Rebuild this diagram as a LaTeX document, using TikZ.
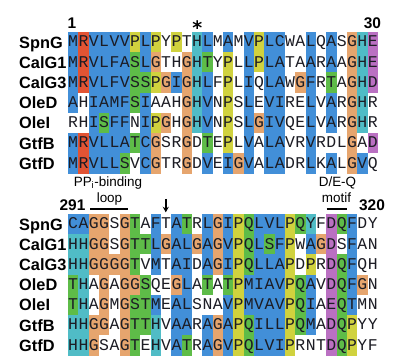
\documentclass[tikz,border=0pt]{standalone}
\usepackage{fontspec}
\setmainfont{Liberation Sans}
\newfontfamily\seqfont{Liberation Mono}
\newfontfamily\symfont{DejaVu Sans}
\usetikzlibrary{arrows.meta}
\definecolor{colb}{RGB}{66,143,216}
\definecolor{colr}{RGB}{226,84,52}
\definecolor{colg}{RGB}{94,188,72}
\definecolor{colo}{RGB}{230,165,110}
\definecolor{coly}{RGB}{208,210,62}
\definecolor{colc}{RGB}{80,188,198}
\definecolor{colm}{RGB}{186,112,194}
\definecolor{colw}{RGB}{255,255,255}
\definecolor{ink}{RGB}{28,28,36}
\tikzset{
  namelab/.style={anchor=base west,inner sep=0pt,font=\fontsize{16.4}{18}\selectfont\bfseries},
  seqlab/.style={anchor=base,inner sep=0pt,text=ink,font=\fontsize{16.5}{18}\seqfont},
  numlab/.style={anchor=base,inner sep=0pt,font=\fontsize{15.5}{18}\selectfont\bfseries},
  motiflab/.style={anchor=base,inner sep=0pt,font=\fontsize{13.5}{16}\selectfont},
  motifbar/.style={line width=2.4bp},
}
\newcommand\alnrow[4]{%
  \node[namelab] (n#1) at (19,#2+16) {#3};
  \foreach \a/\c [count=\i] in {#4} {
    \fill[fill=col\c] ({68+10.33*(\i-1)},#2) rectangle ({68+10.33*\i+0.4},#2+20.6);
  }
  \foreach \a/\c [count=\i] in {#4} {
    \node[seqlab] (s#1-\i) at ({68+10.33*(\i-0.5)},#2+14.9) {\a};
  }
}
\begin{document}
\begin{tikzpicture}[x=1bp,y=-1bp]
\useasboundingbox (0,0) rectangle (410,362);
% top block
\node[numlab] (num1) at (72,28) {1};
\node[anchor=base,inner sep=0pt,font=\fontsize{19}{22}\symfont\bfseries] (star) at (197.2,29.5) {⁎};
\node[numlab] (num30) at (372.5,28) {30};
\alnrow{a1}{32}{SpnG}{M/b,R/r,V/b,L/b,V/b,V/b,P/y,L/b,P/y,Y/w,P/y,T/w,H/c,L/b,M/w,A/b,M/w,V/b,P/y,L/b,C/b,W/w,A/w,L/b,Q/w,A/b,S/w,G/o,H/c,E/m}
\alnrow{a2}{52.2}{CalG1}{M/b,R/r,V/b,L/b,F/b,A/b,S/g,L/b,G/o,T/w,H/w,G/o,H/c,T/g,Y/w,P/y,L/w,L/b,P/y,L/b,A/b,T/w,A/w,A/b,R/w,A/b,A/w,G/o,H/c,E/m}
\alnrow{a3}{72.4}{CalG3}{M/b,R/r,V/b,L/b,F/b,V/b,S/g,S/g,P/y,G/o,I/b,G/o,H/c,L/b,F/w,P/y,L/w,I/b,Q/w,L/b,A/b,W/w,G/o,F/b,R/w,T/g,A/w,G/o,H/c,D/m}
\alnrow{a4}{92.6}{OleD}{A/b,H/w,I/b,A/b,M/b,F/b,S/g,I/b,A/w,A/w,H/w,G/o,H/c,V/b,N/w,P/y,S/w,L/b,E/w,V/b,I/b,R/w,E/w,L/b,V/w,A/b,R/w,G/o,H/c,R/w}
\alnrow{a5}{112.8}{OleI}{R/w,H/w,I/b,S/g,F/b,F/b,N/w,I/b,P/y,G/o,H/w,G/o,H/c,V/b,N/w,P/y,S/w,L/b,G/o,I/b,V/b,Q/w,E/w,L/b,V/w,A/b,R/w,G/o,H/c,R/w}
\alnrow{a6}{133}{GtfB}{M/b,R/r,V/b,L/b,L/b,A/b,T/g,C/b,G/o,S/w,R/w,G/o,D/w,T/g,E/w,P/y,L/w,V/b,A/w,L/b,A/b,V/w,R/w,V/b,R/w,D/w,L/w,G/o,A/w,D/m}
\alnrow{a7}{153.2}{GtfD}{M/b,R/r,V/b,L/b,L/b,S/g,V/w,C/b,G/o,T/w,R/w,G/o,D/w,V/b,E/w,I/b,G/o,V/b,A/w,L/b,A/b,D/w,R/w,L/b,K/w,A/b,L/w,G/o,V/b,Q/w}
% bottom block labels
\node[motiflab] (ppi) at (108,186.5) {PP\textsubscript{i}-binding};
\node[motiflab] (loop) at (109.5,202.8) {loop};
\coordinate (lb1) at (90,208.8);
\coordinate (lb2) at (128,208.8);
\draw[motifbar] (lb1) -- (lb2);
\node[numlab] (num291) at (72.5,210) {291};
\coordinate (arrtop) at (165.8,198.8);
\coordinate (arrtip) at (165.8,212.3);
\draw[line width=1.5bp,-{Stealth[length=5.5bp,width=6bp]}] (arrtop) -- (arrtip);
\node[motiflab] (deq) at (337.5,186.5) {D/E-Q};
\node[motiflab] (motif) at (336.5,202.8) {motif};
\coordinate (mb1) at (326.7,208.8);
\coordinate (mb2) at (346.7,208.8);
\draw[motifbar] (mb1) -- (mb2);
\node[numlab] (num320) at (372,210) {320};
% bottom block
\alnrow{b1}{214}{SpnG}{C/b,A/b,G/o,G/o,S/w,G/o,T/g,A/w,F/b,T/w,A/b,T/g,R/w,L/b,G/o,I/b,P/y,Q/g,L/b,V/b,L/b,P/y,Q/g,Y/c,F/w,D/m,Q/g,F/b,D/w,Y/w}
\alnrow{b2}{234.2}{CalG1}{H/c,H/c,G/o,G/o,S/w,G/o,T/g,T/g,L/b,G/o,A/b,L/b,G/o,A/b,G/o,V/b,P/y,Q/g,L/b,S/g,F/b,P/y,W/w,A/b,G/o,D/m,S/w,F/b,A/w,N/w}
\alnrow{b3}{254.4}{CalG3}{H/c,H/c,G/o,G/o,G/o,G/o,T/g,V/w,M/b,T/w,A/b,I/b,D/w,A/b,G/o,I/b,P/y,Q/g,L/b,L/b,A/b,P/y,D/w,P/y,R/w,D/m,Q/g,F/b,Q/w,H/w}
\alnrow{b4}{274.6}{OleD}{T/g,H/c,A/w,G/o,A/w,G/o,G/o,S/g,Q/w,E/w,G/o,L/b,A/w,T/g,A/w,T/g,P/y,M/b,I/b,A/b,V/b,P/y,Q/g,A/b,V/w,D/m,Q/g,F/b,G/o,N/w}
\alnrow{b5}{294.8}{OleI}{T/g,H/c,A/w,G/o,M/w,G/o,S/g,T/g,M/b,E/w,A/b,L/b,S/w,N/w,A/w,V/b,P/y,M/b,V/b,A/b,V/b,P/y,Q/g,I/b,A/w,E/m,Q/g,T/b,M/w,N/w}
\alnrow{b6}{315}{GtfB}{H/c,H/c,G/o,G/o,A/w,G/o,T/g,T/g,H/c,V/w,A/b,A/b,R/w,A/b,G/o,A/b,P/y,Q/g,I/b,L/b,L/b,P/y,Q/g,M/b,A/w,D/m,Q/g,P/y,Y/w,Y/w}
\alnrow{b7}{335.2}{GtfD}{H/c,H/c,G/o,S/w,A/w,G/o,T/g,E/w,H/c,V/w,A/b,T/g,R/w,A/b,G/o,V/b,P/y,Q/g,L/b,V/b,I/b,P/y,R/w,N/w,T/w,D/m,Q/g,P/y,Y/w,F/w}
\end{tikzpicture}
\end{document}
